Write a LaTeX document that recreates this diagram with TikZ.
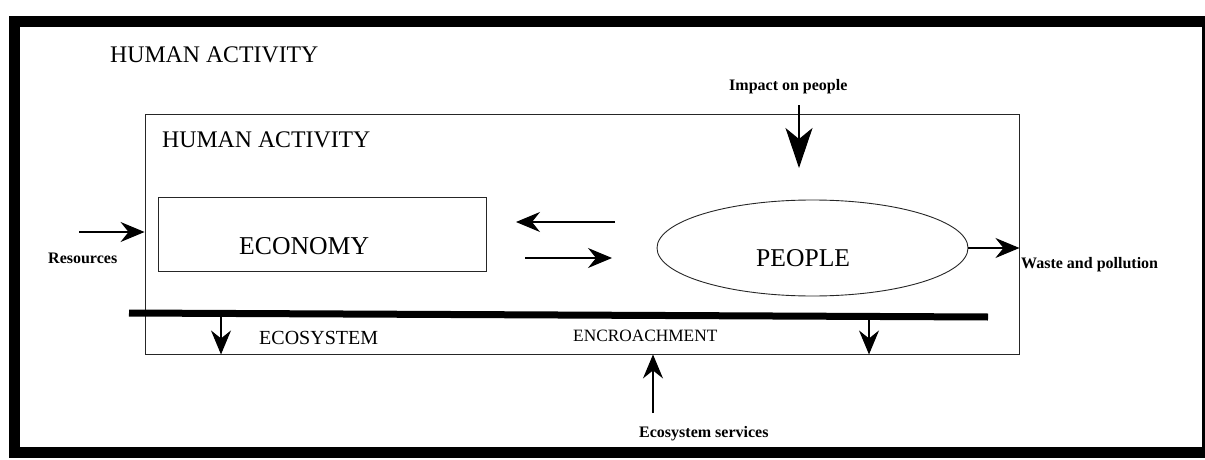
\documentclass[tikz,border=0pt]{standalone}
\usepackage{fontspec}
\setmainfont{Liberation Serif}
\usetikzlibrary{arrows.meta,shapes.geometric}

\tikzset{
  caption/.style={anchor=base west, inner sep=0pt, font=\fontsize{#1}{#1}\selectfont},
  tag/.style={anchor=base west, inner sep=0pt, font=\fontsize{16}{16}\selectfont\bfseries},
  thinline/.style={draw=black!85, line width=0.9pt},
  flow/.style={line width=1.1pt, -{Stealth[length=24pt,width=20pt,inset=8pt]}},
  bigflow/.style={line width=1.1pt, -{Stealth[length=40pt,width=27pt,inset=11pt]}},
}

\begin{document}
\begin{tikzpicture}[x=1pt,y=-1pt]
  \useasboundingbox (0,0) rectangle (1205,460);

  % heavy outer frame
  \draw[line width=11pt] (14,22) rectangle (1207,452);
  \node[caption=23.8] (outertitle) at (110,63) {HUMAN ACTIVITY};

  % inner frame
  \node[thinline, minimum width=874pt, minimum height=240pt, inner sep=0pt] (inner) at (582,234) {};
  \node[caption=23.8] (innertitle) at (162,147) {HUMAN ACTIVITY};

  % economy and people
  \node[thinline, minimum width=328pt, minimum height=74pt, inner sep=0pt] (economy) at (322,234) {};
  \node[caption=25.7] (economytext) at (239,254) {ECONOMY};
  \node[ellipse, thinline, minimum width=311pt, minimum height=96pt, inner sep=0pt] (people) at (812.5,248) {};
  \node[caption=25.6] (peopletext) at (756,266) {PEOPLE};

  % exchange between economy and people
  \coordinate (toEcoA) at (615,222);
  \coordinate (toEcoB) at (516,222);
  \coordinate (toPplA) at (525,258);
  \coordinate (toPplB) at (612,258);
  \draw[flow] (toEcoA) -- (toEcoB);
  \draw[flow] (toPplA) -- (toPplB);

  % resources in
  \node[tag] (resources) at (48,263) {Resources};
  \coordinate (resStart) at (79,232);
  \draw[flow] (resStart) -- (resStart -| inner.west);

  % waste out
  \node[tag] (waste) at (1021,268) {Waste and pollution};
  \draw[flow] (people.east) -- (people.east -| inner.east);

  % impact on people
  \node[tag] (impact) at (729,90) {Impact on people};
  \coordinate (impStart) at (799,105);
  \coordinate (impEnd) at (799,168);
  \draw[bigflow] (impStart) -- (impEnd);

  % ecosystem boundary
  \coordinate (barL) at (129,313);
  \coordinate (barR) at (988,317);
  \draw[line width=7pt] (barL) -- (barR);
  \node[caption=20] (ecosystem) at (259,344) {ECOSYSTEM};
  \node[caption=17.3] (encroach) at (573,341) {ENCROACHMENT};

  \coordinate (encL) at (221,314);
  \coordinate (encR) at (869,317);
  \draw[flow] (encL) -- (encL |- inner.south);
  \draw[flow] (encR) -- (encR |- inner.south);

  % ecosystem services
  \node[tag] (services) at (639,437) {Ecosystem services};
  \coordinate (srvStart) at (653,413);
  \draw[flow] (srvStart) -- (srvStart |- inner.south);
\end{tikzpicture}
\end{document}
